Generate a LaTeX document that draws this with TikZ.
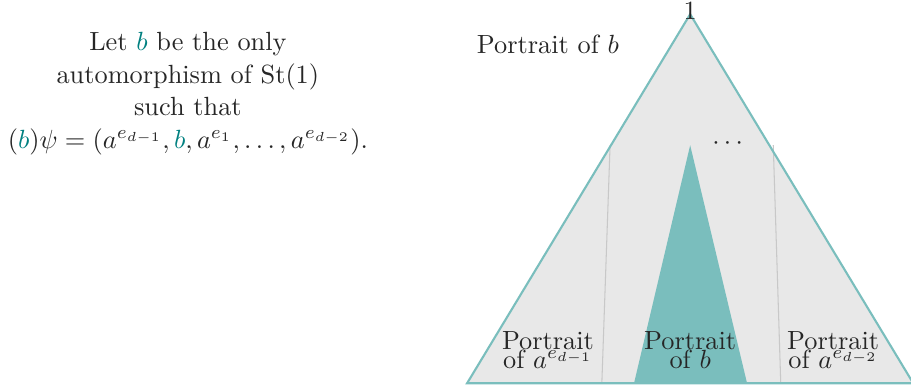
\documentclass[tikz,border=0pt]{standalone}
\usepackage{amsmath}
\usepackage{xcolor}
\usepackage{tikz}
\usetikzlibrary{positioning, calc}

\definecolor{bteal}{RGB}{0,128,128}
\definecolor{portteal}{RGB}{122,190,189}
\definecolor{treegray}{RGB}{232,232,232}
\definecolor{cutgray}{RGB}{200,200,200}

\begin{document}
\begin{tikzpicture}[font=\normalsize, text=black!85,
  lbl/.style={align=center, inner sep=0pt}]
  \useasboundingbox (0,0) rectangle (12.17,5.2);
  % the tree
  \coordinate (top) at (9.22,5.01);
  \coordinate (bl) at (6.24,0.08);
  \coordinate (br) at (12.20,0.08);
  \fill[treegray] (top) -- (bl) -- (br) -- cycle;
  \draw[cutgray, thin] (8.15,3.26) -- (8.04,0.08);
  \draw[cutgray, thin] (10.33,3.26) -- (10.43,0.08);
  \fill[portteal] (9.22,3.26) -- (8.47,0.08) -- (9.98,0.08) -- cycle;
  \draw[portteal, line width=0.8pt] (top) -- (bl) -- (br) -- cycle;
  % labels
  \node[lbl] (root) at ($(top)+(0,0.05)$) {1};
  \node[lbl] (pb) at (7.32,4.61) {Portrait of $b$};
  \node[lbl] (dots) at (9.75,3.28) {$\cdots$};
  \node[lbl] (pl) at (7.32,0.52) {Portrait\\[-5pt]of $a^{e_{d-1}}$};
  \node[lbl] (pm) at (9.22,0.52) {Portrait\\[-5pt]of $b$};
  \node[lbl] (pr) at (11.13,0.52) {Portrait\\[-5pt]of $a^{e_{d-2}}$};
  % definition of b
  \node[lbl] (def) at (2.51,3.95) {Let \textcolor{bteal}{$b$} be the only\\[0.4pt]
    automorphism of $\mathrm{St}(1)$\\[0.4pt] such that\\[0.4pt]
    $(\textcolor{bteal}{b})\psi=(a^{e_{d-1}},\textcolor{bteal}{b},a^{e_1},\ldots,a^{e_{d-2}})$.};
\end{tikzpicture}
\end{document}
